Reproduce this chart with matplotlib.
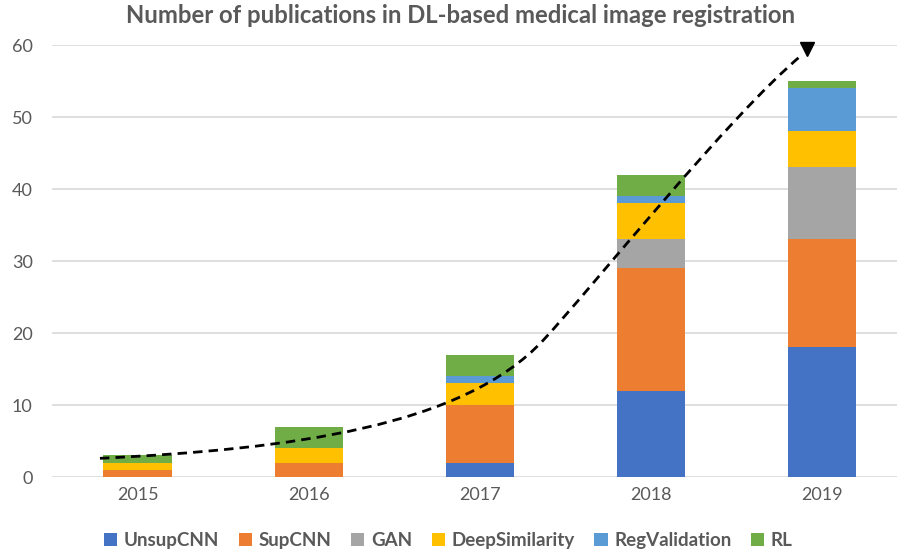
import matplotlib.pyplot as plt
from matplotlib.path import Path
from matplotlib.patches import PathPatch
import numpy as np

plt.rcParams['font.family'] = ['Lato', 'DejaVu Sans']

years = ['2015', '2016', '2017', '2018', '2019']
unsup_cnn = [0, 0, 2, 12, 18]
sup_cnn = [1, 2, 8, 17, 15]
gan = [0, 0, 0, 4, 10]
deep_similarity = [1, 2, 3, 5, 5]
reg_validation = [0, 0, 1, 1, 6]
rl = [1, 3, 3, 3, 1]

series_names = ['UnsupCNN', 'SupCNN', 'GAN', 'DeepSimilarity', 'RegValidation', 'RL']
colors = ['#4472C4', '#ED7D31', '#A5A5A5', '#FFC000', '#5B9BD5', '#70AD47']

# hand-drawn trend arrow: bezier control points (x in category index, y in publications)
trend_x = [-0.22, 0.9, 1.9, 2.37, 2.67, 3.45, 3.88]
trend_y = [2.6, 3.9, 7.0, 19.0, 26.7, 50.0, 58.6]
arrow_x = [3.91]
arrow_y = [59.5]

text_color = '#595959'

fig = plt.figure(figsize=(8.97, 5.56), dpi=100)
ax = fig.add_axes([0.058, 0.142, 0.954, 0.777])

x = np.arange(len(years))
bottom = np.zeros(len(years))
for name, vals, c in zip(series_names,
                         [unsup_cnn, sup_cnn, gan, deep_similarity, reg_validation, rl],
                         colors):
    ax.bar(x, vals, width=0.4, bottom=bottom, color=c, label=name, zorder=2)
    bottom += np.array(vals)

codes = [Path.MOVETO] + [Path.CURVE4] * 6
trend = Path(list(zip(trend_x, trend_y)), codes)
ax.add_patch(PathPatch(trend, fill=False, edgecolor='black', lw=2.0,
                       ls=(0, (3.4, 2.2)), zorder=3, capstyle='butt'))
ax.plot(arrow_x, arrow_y, marker='v', color='black', markersize=10, ls='none',
        zorder=4, clip_on=False)

ax.set_xlim(-0.5, 4.5)
ax.set_ylim(0, 60)
ax.set_yticks(range(0, 61, 10))
ax.set_xticks(x)
ax.set_xticklabels(years)
ax.yaxis.grid(True, color='#D9D9D9', lw=1.2, zorder=0)
ax.set_axisbelow(True)
for s in ax.spines.values():
    s.set_visible(False)
ax.tick_params(axis='both', length=0, labelsize=13, labelcolor=text_color)
ax.tick_params(axis='y', pad=14)
ax.tick_params(axis='x', pad=7)

fig.suptitle('Number of publications in DL-based medical image registration',
             x=0.513, y=0.993, fontsize=17.2, fontweight='bold', color=text_color)

leg = ax.legend(loc='center', bbox_to_anchor=(0.5, 0.027),
                bbox_transform=fig.transFigure, ncol=6, frameon=False,
                handlelength=0.7, handleheight=0.7, handletextpad=0.35,
                columnspacing=1.05, fontsize=13.5)
for t in leg.get_texts():
    t.set_color(text_color)
    t.set_fontweight('bold')

fig.savefig('out.png', dpi=100)
